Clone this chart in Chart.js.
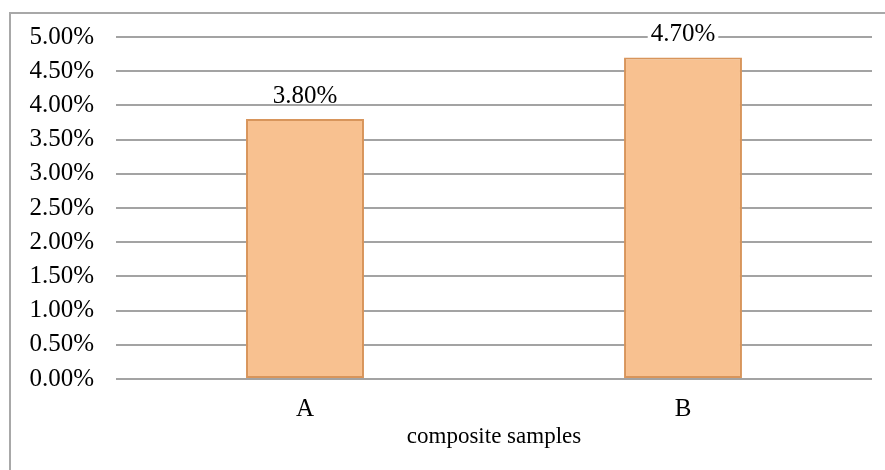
<!DOCTYPE html>
<html>
<head>
<meta charset="utf-8">
<script src="https://cdn.jsdelivr.net/npm/chart.js@4"></script>
<style>
    html, body { margin: 0; padding: 0; background: #fff; }
    #wrap { width: 885px; height: 470px; }
</style>
</head>
<body>
<div id="wrap"><canvas id="chart-composite"></canvas></div>
<script>
const categories = ['A', 'B'];
const moisture = [3.8, 4.7];
const yTicks = [0, 0.5, 1, 1.5, 2, 2.5, 3, 3.5, 4, 4.5, 5];
const xTitle = 'composite samples';

const serif = '"Liberation Serif", "DejaVu Serif", serif';
const colors = {
    bar: '#f8c190',
    barEdge: '#d8955b',
    grid: '#a3a3a3',
    frame: '#a8a8a8',
    text: '#000'
};

// outer frame, only left and top edges show in the picture
const framePlugin = {
    id: 'frame',
    beforeDraw(chart) {
        const ctx = chart.ctx;
        ctx.save();
        ctx.strokeStyle = colors.frame;
        ctx.lineWidth = 2;
        ctx.beginPath();
        ctx.moveTo(10, chart.height);
        ctx.lineTo(10, 13);
        ctx.lineTo(chart.width, 13);
        ctx.stroke();
        ctx.restore();
    }
};

// value labels above bars, on a white patch so they cut the grid lines
const valueLabels = {
    id: 'valueLabels',
    afterDatasetsDraw(chart) {
        const ctx = chart.ctx;
        const meta = chart.getDatasetMeta(0);
        ctx.save();
        ctx.font = '25px ' + serif;
        ctx.textAlign = 'center';
        ctx.textBaseline = 'middle';
        meta.data.forEach((bar, i) => {
            const text = moisture[i].toFixed(2) + '%';
            const y = bar.y - 23;
            const w = ctx.measureText(text).width;
            ctx.fillStyle = '#fff';
            ctx.fillRect(bar.x - w / 2 - 3, y - 7, w + 6, 14);
            ctx.fillStyle = colors.text;
            ctx.fillText(text, bar.x, y);
        });
        ctx.restore();
    }
};

new Chart(document.getElementById('chart-composite'), {
    type: 'bar',
    data: {
        labels: categories,
        datasets: [{
            data: moisture,
            backgroundColor: colors.bar,
            borderColor: colors.barEdge,
            borderWidth: 2,
            borderSkipped: false,
            barPercentage: 0.312,
            categoryPercentage: 1
        }]
    },
    options: {
        responsive: true,
        maintainAspectRatio: false,
        animation: false,
        layout: {
            padding: { top: 37, right: 13, left: 0, bottom: 0 }
        },
        scales: {
            y: {
                min: 0,
                max: 5,
                afterBuildTicks: (axis) => {
                    axis.ticks = yTicks.map(v => ({ value: v }));
                },
                afterFit: (axis) => { axis.width = 116; },
                ticks: {
                    padding: 22,
                    color: colors.text,
                    font: { family: serif, size: 25 },
                    callback: (v) => v.toFixed(2) + '%'
                },
                grid: {
                    color: colors.grid,
                    lineWidth: 2,
                    drawTicks: false
                },
                border: { display: false }
            },
            x: {
                afterFit: (axis) => { axis.height = 91; },
                ticks: {
                    padding: 15,
                    color: colors.text,
                    font: { family: serif, size: 25 }
                },
                grid: { display: false, drawTicks: false },
                border: { display: false },
                title: {
                    display: true,
                    text: xTitle,
                    color: colors.text,
                    font: { family: serif, size: 23 },
                    padding: { top: 0, bottom: 19 }
                }
            }
        },
        plugins: {
            legend: { display: false },
            tooltip: { enabled: false }
        }
    },
    plugins: [framePlugin, valueLabels]
});
</script>
</body>
</html>
